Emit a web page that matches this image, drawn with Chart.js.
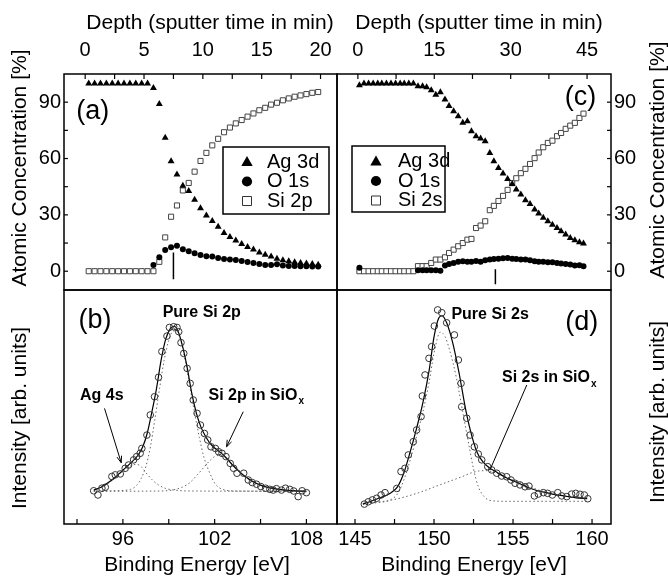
<!DOCTYPE html>
<html><head><meta charset="utf-8">
<script src="https://cdn.jsdelivr.net/npm/chart.js@4.4.1/dist/chart.umd.min.js"></script>
<style>
html,body{margin:0;padding:0;background:#fff;}
#wrap{position:relative;width:668px;height:578px;overflow:hidden;}
#wrap canvas{position:absolute;left:0;top:0;}
</style></head><body>
<div id="wrap">
<canvas id="ca" width="668" height="578"></canvas>
<canvas id="cb" width="668" height="578"></canvas>
<canvas id="cc" width="668" height="578"></canvas>
<canvas id="cd" width="668" height="578"></canvas>
</div>
<script>
// ---------- Panel (a): depth profile, Si 2p ----------
const depthA = [0.3,0.8,1.3,1.8,2.3,2.8,3.3,3.8,4.3,4.8,5.3,5.8,6.3,6.8,7.3,7.8,8.3,8.8,9.3,9.8,10.3,10.8,11.3,11.8,12.3,12.8,13.3,13.8,14.3,14.8,15.3,15.8,16.3,16.8,17.3,17.8,18.3,18.8,19.3,19.8];
const agA = [100,100,100,100,100,100,100,100,100,100,100,97.5,89,71,58.6,51.5,45.5,42.7,38,33.5,29.6,26.8,23.7,20.3,18.2,16.3,14.5,12.9,11.5,10,8.8,7.9,6.7,5.8,5.3,4.8,4.4,4.1,3.9,3.5];
const oA = [null,null,null,null,null,null,null,null,null,null,null,3.3,7.4,11.3,12.7,13.6,11.7,10.6,9.5,8.7,8.0,7.8,7.1,6.5,6.2,6.0,5.5,4.9,4.4,3.9,3.3,3.3,3.7,3.0,2.8,2.8,2.7,2.7,2.5,2.5];
const siA = [0,0,0,0,0,0,0,0,0,0,0,0,5,18,29,35,43,47,53,58.7,63,67,70.5,74,76.5,78.7,80.5,82.3,84,85.7,87,88.7,89.7,91,92,92.9,93.6,94.3,95,95.4];
const markA = [{x:7.5,y:10},{x:7.5,y:-4.3}];

// ---------- Panel (c): depth profile, Si 2s ----------
const depthC = [0.3,1.2,2.1,3.0,3.9,4.7,5.6,6.5,7.4,8.3,9.1,10.0,10.9,11.8,12.7,13.5,14.4,15.3,16.2,17.1,17.9,18.8,19.7,20.6,21.5,22.3,23.2,24.1,25.0,25.9,26.7,27.6,28.5,29.4,30.3,31.1,32.0,32.9,33.8,34.7,35.5,36.4,37.3,38.2,39.1,39.9,40.8,41.7,42.6,43.5,44.3];
const agC = [99,100,100,100,100,100,100,100,100,100,100,100,100,98.5,98.5,98,96.4,94,95.3,91.4,87.9,85.2,82.5,79,79.9,74.5,71.9,70.6,69.2,63,58.6,55,52,49.1,46.5,43.5,40.8,37.8,35.8,32.8,30.7,28.4,26.6,24.8,23,21.3,19.5,17.7,16.5,15.4,14.7];
const oC = [1.8,null,null,null,null,null,null,null,null,null,null,null,null,0.5,0.5,0.5,0.5,0.5,0.3,3.0,3.9,4.4,5.0,5.3,5.1,5.1,5.5,5.1,5.8,6.2,6.5,6.7,6.9,7.1,6.7,6.5,6.2,6.2,5.8,5.3,5.1,5.0,4.8,4.8,4.4,4.1,3.9,3.6,3.0,3.2,2.7];
const siC = [0,0,0,0,0,0,0,0,0,0,0,0,0,2.7,2.7,2.7,4.4,6.2,6.2,7.4,9.7,11.5,13.3,15,16.8,17.2,23,24.3,26.6,32.5,34.8,37.4,40.1,43.3,46.9,49.5,52.2,54.5,57.1,60.2,63.2,66,68.3,69.5,71.9,73.6,75.8,77.5,79,81.6,83.9];
const markC = [{x:27.0,y:1},{x:27.0,y:-7}];

// ---------- Panel (b): Si 2p spectrum ----------
const eB = [94.09,94.37,94.63,94.85,95.28,95.5,95.83,96.15,96.37,96.7,96.9,97.13,97.24,97.57,97.79,98.07,98.33,98.55,98.88,99.04,99.32,99.54,99.65,99.8,99.98,100.2,100.4,100.6,100.85,101.07,101.33,101.55,101.76,102.05,102.26,102.48,102.74,103.02,103.24,103.46,103.9,104.2,104.46,104.74,105.02,105.33,105.61,105.83,106.04,106.37,106.63,106.91,107.17,107.46,107.72,108.0];
const iB = [14.2,12.4,15.3,15.7,20.3,21.0,21.4,23.8,25.2,27.4,28.8,30.2,32.3,38.0,46.6,54.4,62.7,73.7,80.3,84.0,84.3,84.0,82.2,77.5,72.9,66.5,60.1,53.0,47.3,42.3,38.7,35.9,33.0,32.3,30.9,30.2,28.8,25.9,23.8,21.7,21.7,18.8,17.7,17.0,16.0,15.3,14.8,14.5,15.1,14.5,15.3,14.8,14.1,11.7,14.2,13.4];
const fitBx = [94.1,94.6,95.0,95.5,96.0,96.5,97.0,97.3,97.6,97.9,98.2,98.5,98.8,99.1,99.35,99.6,99.9,100.2,100.5,100.8,101.1,101.4,101.7,102.0,102.4,102.8,103.2,103.6,104.0,104.5,105.0,105.5,106.0,106.5,107.0,108.0];
const fitBy = [14.5,15.8,17.5,20,23,26,29.5,33,39,48,58,70,79,83.5,84.5,82.5,76,67,56,47.5,41.5,37.5,34.5,32.5,30.5,28,25,22.5,20.3,18.2,16.6,15.6,15,14.6,14.3,14];
const mainBx = [94.1,95.5,96.5,96.9,97.2,97.5,97.8,98.1,98.4,98.7,99.0,99.3,99.5,99.8,100.1,100.4,100.7,101.0,101.3,101.7,102.0,102.3,102.7,103.2,108.0];
const mainBy = [14,14.2,14.8,16.5,19.5,24.5,33,45,58,70,78.5,82.5,82.5,78,69,58,47,37,28.5,21.5,17.5,15.5,14.5,14.1,14];
const agBx = [94.1,94.6,95.0,95.5,96.0,96.5,96.9,97.2,97.5,97.9,98.3,98.8,99.5,100.5,108.0];
const agBy = [14.3,15.6,17.2,19.7,22.5,24.8,25.5,24.5,22,19,16.8,15.2,14.4,14.1,14];
const oxBx = [94.1,98.5,99.3,99.9,100.4,100.8,101.2,101.6,102.0,102.3,102.6,103.0,103.4,103.8,104.3,104.8,105.4,106.0,106.6,107.2,108.0];
const oxBy = [14,14.1,14.6,15.8,17.8,20.5,23.5,26.5,28.8,29.3,28.8,26.5,23.5,21,18.6,17,15.7,15,14.5,14.2,14];

// ---------- Panel (d): Si 2s spectrum ----------
const eD = [145.59,145.84,146.10,146.37,146.65,146.9,147.64,147.91,148.16,148.37,148.69,148.9,149.18,149.26,149.43,149.68,149.85,150.02,150.23,150.49,150.8,151.29,151.54,151.71,151.75,152.07,152.28,152.55,152.8,153.02,153.4,153.65,153.97,154.28,154.6,154.87,155.13,155.44,155.76,156.01,156.35,156.6,156.92,157.19,157.49,157.83,158.08,158.4,158.71,158.97,159.24,159.51,159.73];
const iD = [8.5,9.5,10.3,11.0,12.4,13.4,15.2,22.4,23.8,29.5,35.2,40.2,45.9,54.7,63.7,70.8,75.8,84.6,91.5,90.3,86,80.8,70.1,60.1,50.1,45.2,38,33,29.9,27.4,24.5,23.1,21.7,20.5,20.2,18.8,17.4,16.7,15.9,16.2,12.0,12.8,13.4,13.1,12.4,13.4,12.0,11.7,12.8,13.1,12.7,12.4,10.8];
const fitDx = [145.5,146.5,147.2,147.7,148.1,148.5,148.9,149.3,149.7,150.0,150.3,150.5,150.8,151.2,151.6,152.0,152.3,152.7,153.1,153.5,154.0,154.5,155.0,155.5,156.0,156.5,157.0,157.5,158.0,158.5,159.0,159.7];
const fitDy = [8.5,11,13,16,22,31,41,52,66,80,88,89,86,77,64,49,40,31,26.5,24,22,20,18.5,17,15.5,14.3,13.5,12.8,12.2,11.7,11.2,10.8];
const mainDx = [145.5,146.5,147.2,147.7,148.1,148.5,148.9,149.3,149.7,150.0,150.4,150.7,151.0,151.4,151.8,152.2,152.5,152.8,153.2,153.6,154.5,159.7];
const mainDy = [8.5,9.2,10.2,13,19,27.5,37.5,48,61,73,82,80,74,63,48.5,34,23.5,16,11.5,10,9.7,9.7];
const oxDx = [145.5,146.5,147.3,148.0,149.0,150.0,151.0,151.8,152.3,152.8,153.3,153.7,154.2,155.0,155.8,156.5,157.2,158.0,158.8,159.7];
const oxDy = [8.8,9.4,10.2,11.3,13.3,15.8,18.3,20.3,21.7,22.6,22.8,22.3,21,18.8,16.7,14.8,13.4,12.3,11.5,10.9];

// ---------- Tick labels / tick marks ----------
const topTicksA = [0,5,10,15,20];
const topMarksA = [0,2.5,5,7.5,10,12.5,15,17.5,20];
const topTicksC = [0,15,30,45];
const topMarksC = [0,7.5,15,22.5,30,37.5,45];
const concTicks = [0,30,60,90];
const concMarks = [0,15,30,45,60,75,90];
const beTicksB = [96,102,108];
const beMarksB = [93,96,99,102,105,108];
const beTicksD = [145,150,155,160];
const beMarksD = [145,147.5,150,152.5,155,157.5,160];

const FAM = '"Liberation Sans", Arial, Helvetica, sans-serif';
Chart.defaults.font.family = FAM;
Chart.defaults.color = '#000';

const pts = (xs, ys) => xs.map((x, i) => ({x: x, y: ys[i]}));

function drawMarker(ctx, style, x, y, r) {
  ctx.beginPath();
  if (style === 'triangle') {
    ctx.moveTo(x, y - r); ctx.lineTo(x + r * 0.95, y + r * 0.65); ctx.lineTo(x - r * 0.95, y + r * 0.65); ctx.closePath();
    ctx.fillStyle = '#000'; ctx.fill();
  } else if (style === 'circle') {
    ctx.arc(x, y, r * 0.85, 0, Math.PI * 2); ctx.fillStyle = '#000'; ctx.fill();
  } else {
    const s = r * 0.75;
    ctx.rect(x - s, y - s, 2 * s, 2 * s); ctx.fillStyle = '#fff'; ctx.fill();
    ctx.strokeStyle = '#333'; ctx.lineWidth = 1; ctx.stroke();
  }
}

const deco = {
  id: 'deco',
  afterDraw(chart, args, o) {
    const ctx = chart.ctx, a = chart.chartArea;
    const P = (xv, yv) => [chart.scales.x.getPixelForValue(xv), chart.scales.y.getPixelForValue(yv)];
    ctx.save();
    ctx.strokeStyle = '#000'; ctx.lineWidth = 1.5;
    ctx.strokeRect(a.left, a.top, a.right - a.left, a.bottom - a.top);
    ctx.lineWidth = 1.2;
    (o.marks || []).forEach(t => {
      const s = chart.scales[t.scale];
      t.values.forEach(v => {
        const p = s.getPixelForValue(v);
        ctx.beginPath();
        if (t.edge === 'top') { ctx.moveTo(p, a.top); ctx.lineTo(p, a.top + 5); }
        if (t.edge === 'bottom') { ctx.moveTo(p, a.bottom); ctx.lineTo(p, a.bottom - 5); }
        if (t.edge === 'left') { ctx.moveTo(a.left, p); ctx.lineTo(a.left + 4, p); }
        if (t.edge === 'right') { ctx.moveTo(a.right, p); ctx.lineTo(a.right - 4, p); }
        ctx.stroke();
      });
    });
    ctx.fillStyle = '#000';
    (o.titles || []).forEach(t => {
      ctx.save(); ctx.translate(t.x, t.y); ctx.rotate(t.rot || 0);
      ctx.font = t.font; ctx.textAlign = 'center'; ctx.textBaseline = 'middle';
      ctx.fillText(t.text, 0, 0); ctx.restore();
    });
    (o.labels || []).forEach(l => {
      const [x, y] = P(l.x, l.y);
      ctx.font = l.font; ctx.textAlign = 'left'; ctx.textBaseline = 'middle';
      ctx.fillText(l.text, x, y);
      if (l.sub) {
        const w = ctx.measureText(l.text).width;
        ctx.font = l.subFont; ctx.fillText(l.sub, x + w + 1, y + 6);
      }
    });
    (o.arrows || []).forEach(ar => {
      const [x1, y1] = P(ar.from[0], ar.from[1]);
      const [x2, y2] = P(ar.to[0], ar.to[1]);
      ctx.strokeStyle = '#000'; ctx.lineWidth = 1;
      ctx.beginPath(); ctx.moveTo(x1, y1); ctx.lineTo(x2, y2); ctx.stroke();
      if (ar.head) {
        const g = Math.atan2(y2 - y1, x2 - x1), L = 7;
        ctx.beginPath();
        ctx.moveTo(x2 - L * Math.cos(g - 0.35), y2 - L * Math.sin(g - 0.35));
        ctx.lineTo(x2, y2);
        ctx.lineTo(x2 - L * Math.cos(g + 0.35), y2 - L * Math.sin(g + 0.35));
        ctx.stroke();
      }
    });
    if (o.legend) {
      const L = o.legend;
      ctx.strokeStyle = '#000'; ctx.lineWidth = 1.5;
      ctx.strokeRect(L.x, L.y, L.w, L.h);
      L.items.forEach((it, i) => {
        const yy = L.y + L.y0 + i * L.dy;
        drawMarker(ctx, it.style, L.x + L.mx, yy, 6);
        ctx.fillStyle = '#000'; ctx.font = '20px ' + FAM; ctx.textAlign = 'left'; ctx.textBaseline = 'middle';
        ctx.fillText(it.text, L.x + L.tx, yy);
      });
    }
    ctx.restore();
  }
};

function fixTicks(vals) { return s => { s.ticks = vals.map(v => ({value: v})); }; }
const tickFont = {size: 20, family: FAM};

function depthChart(id, pad, xr, yPos, ticksTop, marksTop, ag, o, si, depth, mark, opts) {
  const scales = {
    x: {type: 'linear', position: 'top', min: xr[0], max: xr[1],
        afterBuildTicks: fixTicks(ticksTop), afterFit: s => { s.height = 64; },
        grid: {display: false, drawTicks: false}, border: {display: false},
        ticks: {font: tickFont, color: '#000', padding: 12, maxRotation: 0, autoSkip: false}},
    y: {type: 'linear', position: yPos, min: -10, max: 105,
        afterBuildTicks: fixTicks(concTicks), afterFit: s => { s.width = (yPos === 'left' ? 54 : 40); },
        grid: {display: false, drawTicks: false}, border: {display: false},
        ticks: {font: tickFont, color: '#000', padding: 3, autoSkip: false}}
  };
  return new Chart(document.getElementById(id), {
    type: 'scatter',
    data: {datasets: [
      {label: 'Ag 3d', data: pts(depth, ag), pointStyle: 'triangle', pointRadius: 4, backgroundColor: '#000', borderColor: '#000', borderWidth: 0},
      {label: 'O 1s', data: pts(depth, o), pointStyle: 'circle', pointRadius: 3, backgroundColor: '#000', borderColor: '#000', borderWidth: 0},
      {label: 'Si', data: pts(depth, si), pointStyle: 'rect', pointRadius: 3.6, backgroundColor: '#fff', borderColor: '#444', borderWidth: 1},
      {label: 'mark', data: mark, showLine: true, pointRadius: 0, borderColor: '#000', borderWidth: 1.5}
    ]},
    options: {
      responsive: false, animation: false, devicePixelRatio: 1,
      layout: {padding: pad, autoPadding: false},
      plugins: {legend: {display: false}, tooltip: {enabled: false}, deco: opts},
      scales: scales
    },
    plugins: [deco]
  });
}

function specChart(id, pad, xr, bTicks, bMarks, ex, iy, fit, comps, opts) {
  const ds = [
    {label: 'data', data: pts(ex, iy), pointStyle: 'circle', pointRadius: 3.3, backgroundColor: 'rgba(0,0,0,0)', borderColor: '#333', borderWidth: 1},
    {label: 'fit', data: fit, showLine: true, pointRadius: 0, borderColor: '#000', borderWidth: 1.2, cubicInterpolationMode: 'monotone'}
  ];
  comps.forEach(c => ds.push({label: 'comp', data: c, showLine: true, pointRadius: 0, borderColor: '#666', borderWidth: 1, borderDash: [1.5, 2.5], cubicInterpolationMode: 'monotone'}));
  return new Chart(document.getElementById(id), {
    type: 'scatter',
    data: {datasets: ds},
    options: {
      responsive: false, animation: false, devicePixelRatio: 1,
      layout: {padding: pad, autoPadding: false},
      plugins: {legend: {display: false}, tooltip: {enabled: false}, deco: opts},
      scales: {
        x: {type: 'linear', position: 'bottom', min: xr[0], max: xr[1],
            afterBuildTicks: fixTicks(bTicks), afterFit: s => { s.height = 44; },
            grid: {display: false, drawTicks: false}, border: {display: false},
            ticks: {font: tickFont, color: '#000', padding: 3, maxRotation: 0, autoSkip: false}},
        y: {type: 'linear', display: false, min: 0, max: 100}
      }
    },
    plugins: [deco]
  });
}

const titleFont = '21px ' + FAM;
const panelFont = '27px ' + FAM;
const boldFont = 'bold 16px ' + FAM;
const subFont = 'bold 10px ' + FAM;

depthChart('ca', {left: 10, top: 10, right: 331, bottom: 288}, [-1.8, 21.4], 'left', topTicksA, topMarksA, agA, oA, siA, depthA, markA, {
  marks: [{scale: 'x', edge: 'top', values: topMarksA}, {scale: 'y', edge: 'left', values: concMarks}],
  titles: [
    {text: 'Depth (sputter time in min)', x: 210, y: 23, font: titleFont},
    {text: 'Atomic Concentration [%]', x: 20, y: 168, rot: -Math.PI / 2, font: titleFont}
  ],
  labels: [{text: '(a)', x: -0.75, y: 85, font: panelFont}],
  legend: {x: 223, y: 147, w: 106, h: 67, y0: 15, dy: 19.5, mx: 24, tx: 44,
           items: [{style: 'triangle', text: 'Ag 3d'}, {style: 'circle', text: 'O 1s'}, {style: 'rect', text: 'Si 2p'}]}
});

depthChart('cc', {left: 337, top: 10, right: 17, bottom: 288}, [-4.1, 49.7], 'right', topTicksC, topMarksC, agC, oC, siC, depthC, markC, {
  marks: [{scale: 'x', edge: 'top', values: topMarksC}, {scale: 'y', edge: 'right', values: concMarks}],
  titles: [
    {text: 'Depth (sputter time in min)', x: 479, y: 23, font: titleFont},
    {text: 'Atomic Concentration [%]', x: 658, y: 160, rot: -Math.PI / 2, font: titleFont}
  ],
  labels: [{text: '(c)', x: 40.6, y: 92.4, font: panelFont}],
  legend: {x: 352, y: 146, w: 93, h: 66, y0: 15.5, dy: 19.5, mx: 24, tx: 46,
           items: [{style: 'triangle', text: 'Ag 3d'}, {style: 'circle', text: 'O 1s'}, {style: 'rect', text: 'Si 2s'}]}
});

specChart('cb', {left: 64, top: 290, right: 331, bottom: 10}, [92.15, 110], beTicksB, beMarksB, eB, iB,
  pts(fitBx, fitBy), [pts(mainBx, mainBy), pts(agBx, agBy), pts(oxBx, oxBy)], {
  marks: [{scale: 'x', edge: 'bottom', values: beMarksB}],
  titles: [
    {text: 'Binding Energy [eV]', x: 197, y: 565, font: titleFont},
    {text: 'Intensity [arb. units]', x: 20, y: 418, rot: -Math.PI / 2, font: titleFont}
  ],
  labels: [
    {text: '(b)', x: 93.1, y: 86.8, font: panelFont},
    {text: 'Pure Si 2p', x: 98.6, y: 90.2, font: boldFont},
    {text: 'Ag 4s', x: 93.2, y: 55, font: boldFont},
    {text: 'Si 2p in SiO', x: 101.6, y: 55, font: boldFont, sub: 'x', subFont: subFont}
  ],
  arrows: [
    {from: [94.8, 49.4], to: [95.89, 26.2], head: true},
    {from: [103.87, 48], to: [102.78, 33], head: true}
  ]
});

specChart('cd', {left: 337, top: 290, right: 57, bottom: 10}, [143.86, 161.2], beTicksD, beMarksD, eD, iD,
  pts(fitDx, fitDy), [pts(mainDx, mainDy), pts(oxDx, oxDy)], {
  marks: [{scale: 'x', edge: 'bottom', values: beMarksD}],
  titles: [
    {text: 'Binding Energy [eV]', x: 474, y: 565, font: titleFont},
    {text: 'Intensity [arb. units]', x: 658, y: 412, rot: -Math.PI / 2, font: titleFont}
  ],
  labels: [
    {text: '(d)', x: 158.3, y: 86.3, font: panelFont},
    {text: 'Pure Si 2s', x: 151.1, y: 89.7, font: boldFont},
    {text: 'Si 2s in SiO', x: 154.3, y: 62.4, font: boldFont, sub: 'x', subFont: subFont}
  ],
  arrows: [
    {from: [155.87, 59.4], to: [153.54, 23.1], head: false}
  ]
});
</script>
</body></html>
